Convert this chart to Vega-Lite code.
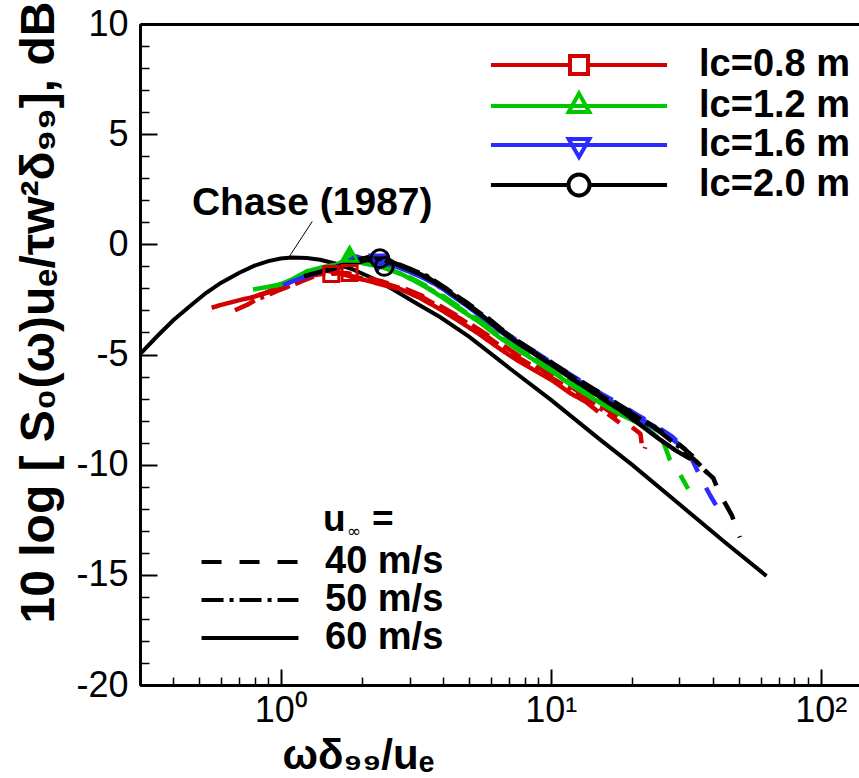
{
  "$schema": "https://vega.github.io/schema/vega-lite/v6.json",
  "width": 719,
  "height": 661,
  "autosize": "none",
  "padding": {"left": 140, "top": 24, "right": 0, "bottom": 93},
  "config": {
    "view": {"stroke": null},
    "axis": {"grid": false, "domainColor": "black", "domainWidth": 3, "tickColor": "black", "labelFont": "Liberation Sans", "labelFontSize": 36, "labelColor": "black", "titleFont": "Liberation Sans", "titleColor": "black", "titleFontWeight": "bold", "labelFlush": false, "labelOverlap": false},
    "legend": {"labelFont": "Liberation Sans", "labelColor": "black", "padding": 0}
  },
  "datasets": {
    "chase": [
      {"x": 0.302, "y": -4.97}, {"x": 0.35, "y": -4.15}, {"x": 0.4, "y": -3.45}, {"x": 0.47, "y": -2.72}, {"x": 0.53, "y": -2.2}, {"x": 0.6, "y": -1.75}, {"x": 0.7, "y": -1.3}, {"x": 0.8, "y": -0.97}, {"x": 0.9, "y": -0.76}, {"x": 1.0, "y": -0.64}, {"x": 1.1, "y": -0.6}, {"x": 1.25, "y": -0.62}, {"x": 1.4, "y": -0.7}, {"x": 1.6, "y": -0.88}, {"x": 1.86, "y": -1.15}, {"x": 2.2, "y": -1.55}, {"x": 2.61, "y": -2.05}, {"x": 3.2, "y": -2.7}, {"x": 3.89, "y": -3.3}, {"x": 5, "y": -4.2}, {"x": 7, "y": -5.6}, {"x": 10, "y": -7.05}, {"x": 15.2, "y": -8.85}, {"x": 20, "y": -10.0}, {"x": 30, "y": -11.8}, {"x": 45, "y": -13.6}, {"x": 63, "y": -15.05}
    ],
    "spectra": [
      {"lc": "0.8", "u": "60 m/s", "x": 0.555, "y": -2.88}, {"lc": "0.8", "u": "60 m/s", "x": 0.6, "y": -2.75}, {"lc": "0.8", "u": "60 m/s", "x": 0.66, "y": -2.62}, {"lc": "0.8", "u": "60 m/s", "x": 0.72, "y": -2.5}, {"lc": "0.8", "u": "60 m/s", "x": 0.77, "y": -2.43}, {"lc": "0.8", "u": "60 m/s", "x": 0.86, "y": -2.25}, {"lc": "0.8", "u": "60 m/s", "x": 0.94, "y": -2.05}, {"lc": "0.8", "u": "60 m/s", "x": 1.05, "y": -1.78}, {"lc": "0.8", "u": "60 m/s", "x": 1.18, "y": -1.5}, {"lc": "0.8", "u": "60 m/s", "x": 1.32, "y": -1.38}, {"lc": "0.8", "u": "60 m/s", "x": 1.48, "y": -1.2}, {"lc": "0.8", "u": "60 m/s", "x": 1.65, "y": -1.3}, {"lc": "0.8", "u": "60 m/s", "x": 1.85, "y": -1.5}, {"lc": "0.8", "u": "60 m/s", "x": 2.1, "y": -1.65}, {"lc": "0.8", "u": "60 m/s", "x": 2.4, "y": -1.85}, {"lc": "0.8", "u": "60 m/s", "x": 2.8, "y": -2.05}, {"lc": "0.8", "u": "60 m/s", "x": 3.3, "y": -2.45}, {"lc": "0.8", "u": "60 m/s", "x": 3.9, "y": -2.95}, {"lc": "0.8", "u": "60 m/s", "x": 4.6, "y": -3.5}, {"lc": "0.8", "u": "60 m/s", "x": 5.4, "y": -4.05}, {"lc": "0.8", "u": "60 m/s", "x": 6.5, "y": -4.75}, {"lc": "0.8", "u": "60 m/s", "x": 7.6, "y": -5.3}, {"lc": "0.8", "u": "60 m/s", "x": 8.8, "y": -5.75}, {"lc": "0.8", "u": "60 m/s", "x": 10.2, "y": -6.2}, {"lc": "0.8", "u": "60 m/s", "x": 11.8, "y": -6.75}, {"lc": "0.8", "u": "60 m/s", "x": 13.5, "y": -7.15}, {"lc": "0.8", "u": "60 m/s", "x": 15.0, "y": -7.6},
      {"lc": "0.8", "u": "50 m/s", "x": 0.677, "y": -2.99}, {"lc": "0.8", "u": "50 m/s", "x": 0.75, "y": -2.75}, {"lc": "0.8", "u": "50 m/s", "x": 0.815, "y": -2.5}, {"lc": "0.8", "u": "50 m/s", "x": 0.9, "y": -2.3}, {"lc": "0.8", "u": "50 m/s", "x": 0.966, "y": -2.13}, {"lc": "0.8", "u": "50 m/s", "x": 1.05, "y": -1.95}, {"lc": "0.8", "u": "50 m/s", "x": 1.15, "y": -1.75}, {"lc": "0.8", "u": "50 m/s", "x": 1.32, "y": -1.4}, {"lc": "0.8", "u": "50 m/s", "x": 1.5, "y": -1.3}, {"lc": "0.8", "u": "50 m/s", "x": 1.7, "y": -1.35}, {"lc": "0.8", "u": "50 m/s", "x": 2.0, "y": -1.55}, {"lc": "0.8", "u": "50 m/s", "x": 2.4, "y": -1.75}, {"lc": "0.8", "u": "50 m/s", "x": 2.8, "y": -2.0}, {"lc": "0.8", "u": "50 m/s", "x": 3.3, "y": -2.35}, {"lc": "0.8", "u": "50 m/s", "x": 3.9, "y": -2.85}, {"lc": "0.8", "u": "50 m/s", "x": 4.6, "y": -3.35}, {"lc": "0.8", "u": "50 m/s", "x": 5.4, "y": -3.9}, {"lc": "0.8", "u": "50 m/s", "x": 6.5, "y": -4.6}, {"lc": "0.8", "u": "50 m/s", "x": 7.6, "y": -5.15}, {"lc": "0.8", "u": "50 m/s", "x": 8.8, "y": -5.6}, {"lc": "0.8", "u": "50 m/s", "x": 10.2, "y": -6.1}, {"lc": "0.8", "u": "50 m/s", "x": 11.8, "y": -6.55}, {"lc": "0.8", "u": "50 m/s", "x": 13.5, "y": -7.0}, {"lc": "0.8", "u": "50 m/s", "x": 15.5, "y": -7.5}, {"lc": "0.8", "u": "50 m/s", "x": 18, "y": -8.1},
      {"lc": "0.8", "u": "40 m/s", "x": 0.83, "y": -2.3}, {"lc": "0.8", "u": "40 m/s", "x": 0.95, "y": -2.1}, {"lc": "0.8", "u": "40 m/s", "x": 1.1, "y": -1.85}, {"lc": "0.8", "u": "40 m/s", "x": 1.3, "y": -1.5}, {"lc": "0.8", "u": "40 m/s", "x": 1.5, "y": -1.35}, {"lc": "0.8", "u": "40 m/s", "x": 1.75, "y": -1.3}, {"lc": "0.8", "u": "40 m/s", "x": 2.0, "y": -1.45}, {"lc": "0.8", "u": "40 m/s", "x": 2.4, "y": -1.7}, {"lc": "0.8", "u": "40 m/s", "x": 2.8, "y": -1.95}, {"lc": "0.8", "u": "40 m/s", "x": 3.3, "y": -2.3}, {"lc": "0.8", "u": "40 m/s", "x": 3.9, "y": -2.8}, {"lc": "0.8", "u": "40 m/s", "x": 4.6, "y": -3.3}, {"lc": "0.8", "u": "40 m/s", "x": 5.4, "y": -3.85}, {"lc": "0.8", "u": "40 m/s", "x": 6.5, "y": -4.5}, {"lc": "0.8", "u": "40 m/s", "x": 7.6, "y": -5.05}, {"lc": "0.8", "u": "40 m/s", "x": 8.8, "y": -5.5}, {"lc": "0.8", "u": "40 m/s", "x": 10.2, "y": -6.0}, {"lc": "0.8", "u": "40 m/s", "x": 11.8, "y": -6.45}, {"lc": "0.8", "u": "40 m/s", "x": 13.5, "y": -6.9}, {"lc": "0.8", "u": "40 m/s", "x": 15.5, "y": -7.35}, {"lc": "0.8", "u": "40 m/s", "x": 18, "y": -7.9}, {"lc": "0.8", "u": "40 m/s", "x": 20, "y": -8.3}, {"lc": "0.8", "u": "40 m/s", "x": 21.5, "y": -8.6}, {"lc": "0.8", "u": "40 m/s", "x": 22.0, "y": -9.55}, {"lc": "0.8", "u": "40 m/s", "x": 22.4, "y": -9.2},
      {"lc": "1.2", "u": "60 m/s", "x": 0.79, "y": -2.05}, {"lc": "1.2", "u": "60 m/s", "x": 0.88, "y": -1.95}, {"lc": "1.2", "u": "60 m/s", "x": 0.99, "y": -1.83}, {"lc": "1.2", "u": "60 m/s", "x": 1.1, "y": -1.6}, {"lc": "1.2", "u": "60 m/s", "x": 1.25, "y": -1.22}, {"lc": "1.2", "u": "60 m/s", "x": 1.48, "y": -1.0}, {"lc": "1.2", "u": "60 m/s", "x": 1.65, "y": -0.9}, {"lc": "1.2", "u": "60 m/s", "x": 1.75, "y": -0.7}, {"lc": "1.2", "u": "60 m/s", "x": 1.8, "y": -0.3}, {"lc": "1.2", "u": "60 m/s", "x": 1.87, "y": -0.7}, {"lc": "1.2", "u": "60 m/s", "x": 2.0, "y": -0.85}, {"lc": "1.2", "u": "60 m/s", "x": 2.4, "y": -1.05}, {"lc": "1.2", "u": "60 m/s", "x": 2.8, "y": -1.35}, {"lc": "1.2", "u": "60 m/s", "x": 3.3, "y": -1.8}, {"lc": "1.2", "u": "60 m/s", "x": 3.9, "y": -2.35}, {"lc": "1.2", "u": "60 m/s", "x": 4.6, "y": -2.95}, {"lc": "1.2", "u": "60 m/s", "x": 5.4, "y": -3.5}, {"lc": "1.2", "u": "60 m/s", "x": 6.5, "y": -4.25}, {"lc": "1.2", "u": "60 m/s", "x": 7.6, "y": -4.8}, {"lc": "1.2", "u": "60 m/s", "x": 8.8, "y": -5.3}, {"lc": "1.2", "u": "60 m/s", "x": 10.2, "y": -5.8}, {"lc": "1.2", "u": "60 m/s", "x": 11.8, "y": -6.35}, {"lc": "1.2", "u": "60 m/s", "x": 13.5, "y": -6.8}, {"lc": "1.2", "u": "60 m/s", "x": 15.5, "y": -7.25}, {"lc": "1.2", "u": "60 m/s", "x": 18, "y": -7.7}, {"lc": "1.2", "u": "60 m/s", "x": 21.4, "y": -8.15},
      {"lc": "1.2", "u": "50 m/s", "x": 0.95, "y": -1.9}, {"lc": "1.2", "u": "50 m/s", "x": 1.1, "y": -1.65}, {"lc": "1.2", "u": "50 m/s", "x": 1.3, "y": -1.3}, {"lc": "1.2", "u": "50 m/s", "x": 1.5, "y": -1.05}, {"lc": "1.2", "u": "50 m/s", "x": 1.7, "y": -0.85}, {"lc": "1.2", "u": "50 m/s", "x": 1.85, "y": -0.55}, {"lc": "1.2", "u": "50 m/s", "x": 2.0, "y": -0.8}, {"lc": "1.2", "u": "50 m/s", "x": 2.4, "y": -1.05}, {"lc": "1.2", "u": "50 m/s", "x": 2.8, "y": -1.35}, {"lc": "1.2", "u": "50 m/s", "x": 3.3, "y": -1.8}, {"lc": "1.2", "u": "50 m/s", "x": 3.9, "y": -2.3}, {"lc": "1.2", "u": "50 m/s", "x": 4.6, "y": -2.9}, {"lc": "1.2", "u": "50 m/s", "x": 5.4, "y": -3.45}, {"lc": "1.2", "u": "50 m/s", "x": 6.5, "y": -4.2}, {"lc": "1.2", "u": "50 m/s", "x": 7.6, "y": -4.75}, {"lc": "1.2", "u": "50 m/s", "x": 8.8, "y": -5.25}, {"lc": "1.2", "u": "50 m/s", "x": 10.2, "y": -5.75}, {"lc": "1.2", "u": "50 m/s", "x": 11.8, "y": -6.3}, {"lc": "1.2", "u": "50 m/s", "x": 13.5, "y": -6.7}, {"lc": "1.2", "u": "50 m/s", "x": 15.5, "y": -7.15}, {"lc": "1.2", "u": "50 m/s", "x": 18, "y": -7.6}, {"lc": "1.2", "u": "50 m/s", "x": 21, "y": -8.1}, {"lc": "1.2", "u": "50 m/s", "x": 23.5, "y": -8.5}, {"lc": "1.2", "u": "50 m/s", "x": 25.7, "y": -8.9},
      {"lc": "1.2", "u": "40 m/s", "x": 1.19, "y": -1.5}, {"lc": "1.2", "u": "40 m/s", "x": 1.35, "y": -1.25}, {"lc": "1.2", "u": "40 m/s", "x": 1.55, "y": -1.0}, {"lc": "1.2", "u": "40 m/s", "x": 1.75, "y": -0.7}, {"lc": "1.2", "u": "40 m/s", "x": 2.0, "y": -0.8}, {"lc": "1.2", "u": "40 m/s", "x": 2.4, "y": -1.0}, {"lc": "1.2", "u": "40 m/s", "x": 2.8, "y": -1.3}, {"lc": "1.2", "u": "40 m/s", "x": 3.3, "y": -1.75}, {"lc": "1.2", "u": "40 m/s", "x": 3.9, "y": -2.25}, {"lc": "1.2", "u": "40 m/s", "x": 4.6, "y": -2.85}, {"lc": "1.2", "u": "40 m/s", "x": 5.4, "y": -3.4}, {"lc": "1.2", "u": "40 m/s", "x": 6.5, "y": -4.1}, {"lc": "1.2", "u": "40 m/s", "x": 7.6, "y": -4.65}, {"lc": "1.2", "u": "40 m/s", "x": 8.8, "y": -5.15}, {"lc": "1.2", "u": "40 m/s", "x": 10.2, "y": -5.65}, {"lc": "1.2", "u": "40 m/s", "x": 11.8, "y": -6.2}, {"lc": "1.2", "u": "40 m/s", "x": 13.5, "y": -6.6}, {"lc": "1.2", "u": "40 m/s", "x": 15.5, "y": -7.05}, {"lc": "1.2", "u": "40 m/s", "x": 18, "y": -7.5}, {"lc": "1.2", "u": "40 m/s", "x": 21, "y": -7.95}, {"lc": "1.2", "u": "40 m/s", "x": 24, "y": -8.4}, {"lc": "1.2", "u": "40 m/s", "x": 26, "y": -8.9}, {"lc": "1.2", "u": "40 m/s", "x": 27.6, "y": -9.75}, {"lc": "1.2", "u": "40 m/s", "x": 30, "y": -10.4}, {"lc": "1.2", "u": "40 m/s", "x": 32.3, "y": -11.1},
      {"lc": "1.6", "u": "60 m/s", "x": 1.02, "y": -1.85}, {"lc": "1.6", "u": "60 m/s", "x": 1.15, "y": -1.6}, {"lc": "1.6", "u": "60 m/s", "x": 1.3, "y": -1.35}, {"lc": "1.6", "u": "60 m/s", "x": 1.5, "y": -1.15}, {"lc": "1.6", "u": "60 m/s", "x": 1.66, "y": -1.0}, {"lc": "1.6", "u": "60 m/s", "x": 1.8, "y": -0.75}, {"lc": "1.6", "u": "60 m/s", "x": 1.9, "y": -0.55}, {"lc": "1.6", "u": "60 m/s", "x": 2.1, "y": -0.7}, {"lc": "1.6", "u": "60 m/s", "x": 2.3, "y": -0.8}, {"lc": "1.6", "u": "60 m/s", "x": 2.6, "y": -0.95}, {"lc": "1.6", "u": "60 m/s", "x": 3.0, "y": -1.25}, {"lc": "1.6", "u": "60 m/s", "x": 3.5, "y": -1.6}, {"lc": "1.6", "u": "60 m/s", "x": 4.1, "y": -2.1}, {"lc": "1.6", "u": "60 m/s", "x": 4.9, "y": -2.8}, {"lc": "1.6", "u": "60 m/s", "x": 5.8, "y": -3.45}, {"lc": "1.6", "u": "60 m/s", "x": 6.5, "y": -3.95}, {"lc": "1.6", "u": "60 m/s", "x": 7.6, "y": -4.5}, {"lc": "1.6", "u": "60 m/s", "x": 8.8, "y": -5.0}, {"lc": "1.6", "u": "60 m/s", "x": 10.2, "y": -5.5}, {"lc": "1.6", "u": "60 m/s", "x": 11.8, "y": -6.0}, {"lc": "1.6", "u": "60 m/s", "x": 13.5, "y": -6.45}, {"lc": "1.6", "u": "60 m/s", "x": 15.5, "y": -6.9}, {"lc": "1.6", "u": "60 m/s", "x": 18, "y": -7.4}, {"lc": "1.6", "u": "60 m/s", "x": 21, "y": -7.9}, {"lc": "1.6", "u": "60 m/s", "x": 25.4, "y": -8.5}, {"lc": "1.6", "u": "60 m/s", "x": 27.5, "y": -8.75},
      {"lc": "1.6", "u": "50 m/s", "x": 1.22, "y": -1.5}, {"lc": "1.6", "u": "50 m/s", "x": 1.4, "y": -1.25}, {"lc": "1.6", "u": "50 m/s", "x": 1.6, "y": -1.05}, {"lc": "1.6", "u": "50 m/s", "x": 1.85, "y": -0.75}, {"lc": "1.6", "u": "50 m/s", "x": 2.1, "y": -0.7}, {"lc": "1.6", "u": "50 m/s", "x": 2.4, "y": -0.85}, {"lc": "1.6", "u": "50 m/s", "x": 2.8, "y": -1.05}, {"lc": "1.6", "u": "50 m/s", "x": 3.3, "y": -1.45}, {"lc": "1.6", "u": "50 m/s", "x": 3.9, "y": -1.95}, {"lc": "1.6", "u": "50 m/s", "x": 4.6, "y": -2.55}, {"lc": "1.6", "u": "50 m/s", "x": 5.4, "y": -3.15}, {"lc": "1.6", "u": "50 m/s", "x": 6.5, "y": -3.9}, {"lc": "1.6", "u": "50 m/s", "x": 7.6, "y": -4.45}, {"lc": "1.6", "u": "50 m/s", "x": 8.8, "y": -4.95}, {"lc": "1.6", "u": "50 m/s", "x": 10.2, "y": -5.45}, {"lc": "1.6", "u": "50 m/s", "x": 11.8, "y": -5.95}, {"lc": "1.6", "u": "50 m/s", "x": 13.5, "y": -6.4}, {"lc": "1.6", "u": "50 m/s", "x": 15.5, "y": -6.85}, {"lc": "1.6", "u": "50 m/s", "x": 18, "y": -7.35}, {"lc": "1.6", "u": "50 m/s", "x": 21, "y": -7.85}, {"lc": "1.6", "u": "50 m/s", "x": 25, "y": -8.35}, {"lc": "1.6", "u": "50 m/s", "x": 30, "y": -9.1}, {"lc": "1.6", "u": "50 m/s", "x": 33, "y": -9.5},
      {"lc": "1.6", "u": "40 m/s", "x": 1.52, "y": -1.1}, {"lc": "1.6", "u": "40 m/s", "x": 1.75, "y": -0.85}, {"lc": "1.6", "u": "40 m/s", "x": 2.0, "y": -0.65}, {"lc": "1.6", "u": "40 m/s", "x": 2.3, "y": -0.75}, {"lc": "1.6", "u": "40 m/s", "x": 2.7, "y": -0.95}, {"lc": "1.6", "u": "40 m/s", "x": 3.2, "y": -1.35}, {"lc": "1.6", "u": "40 m/s", "x": 3.7, "y": -1.75}, {"lc": "1.6", "u": "40 m/s", "x": 4.3, "y": -2.3}, {"lc": "1.6", "u": "40 m/s", "x": 4.9, "y": -2.75}, {"lc": "1.6", "u": "40 m/s", "x": 5.8, "y": -3.4}, {"lc": "1.6", "u": "40 m/s", "x": 6.5, "y": -3.85}, {"lc": "1.6", "u": "40 m/s", "x": 7.6, "y": -4.4}, {"lc": "1.6", "u": "40 m/s", "x": 8.8, "y": -4.9}, {"lc": "1.6", "u": "40 m/s", "x": 10.2, "y": -5.4}, {"lc": "1.6", "u": "40 m/s", "x": 11.8, "y": -5.9}, {"lc": "1.6", "u": "40 m/s", "x": 13.5, "y": -6.35}, {"lc": "1.6", "u": "40 m/s", "x": 15.5, "y": -6.8}, {"lc": "1.6", "u": "40 m/s", "x": 18, "y": -7.25}, {"lc": "1.6", "u": "40 m/s", "x": 21, "y": -7.75}, {"lc": "1.6", "u": "40 m/s", "x": 25, "y": -8.3}, {"lc": "1.6", "u": "40 m/s", "x": 28, "y": -8.7}, {"lc": "1.6", "u": "40 m/s", "x": 31, "y": -9.2}, {"lc": "1.6", "u": "40 m/s", "x": 33.5, "y": -9.8}, {"lc": "1.6", "u": "40 m/s", "x": 36.7, "y": -10.8}, {"lc": "1.6", "u": "40 m/s", "x": 39, "y": -11.4}, {"lc": "1.6", "u": "40 m/s", "x": 41.7, "y": -12.0},
      {"lc": "2.0", "u": "60 m/s", "x": 1.22, "y": -1.45}, {"lc": "2.0", "u": "60 m/s", "x": 1.4, "y": -1.25}, {"lc": "2.0", "u": "60 m/s", "x": 1.57, "y": -1.07}, {"lc": "2.0", "u": "60 m/s", "x": 1.8, "y": -0.85}, {"lc": "2.0", "u": "60 m/s", "x": 2.0, "y": -0.65}, {"lc": "2.0", "u": "60 m/s", "x": 2.2, "y": -0.54}, {"lc": "2.0", "u": "60 m/s", "x": 2.4, "y": -0.7}, {"lc": "2.0", "u": "60 m/s", "x": 2.61, "y": -0.83}, {"lc": "2.0", "u": "60 m/s", "x": 3.0, "y": -1.15}, {"lc": "2.0", "u": "60 m/s", "x": 3.5, "y": -1.5}, {"lc": "2.0", "u": "60 m/s", "x": 4.1, "y": -2.05}, {"lc": "2.0", "u": "60 m/s", "x": 4.9, "y": -2.75}, {"lc": "2.0", "u": "60 m/s", "x": 5.8, "y": -3.4}, {"lc": "2.0", "u": "60 m/s", "x": 6.5, "y": -3.9}, {"lc": "2.0", "u": "60 m/s", "x": 7.6, "y": -4.5}, {"lc": "2.0", "u": "60 m/s", "x": 8.8, "y": -5.0}, {"lc": "2.0", "u": "60 m/s", "x": 10.2, "y": -5.5}, {"lc": "2.0", "u": "60 m/s", "x": 11.8, "y": -6.05}, {"lc": "2.0", "u": "60 m/s", "x": 13.5, "y": -6.5}, {"lc": "2.0", "u": "60 m/s", "x": 15.5, "y": -7.0}, {"lc": "2.0", "u": "60 m/s", "x": 18, "y": -7.5}, {"lc": "2.0", "u": "60 m/s", "x": 21, "y": -8.1}, {"lc": "2.0", "u": "60 m/s", "x": 25, "y": -8.8}, {"lc": "2.0", "u": "60 m/s", "x": 29, "y": -9.35}, {"lc": "2.0", "u": "60 m/s", "x": 33, "y": -9.75},
      {"lc": "2.0", "u": "50 m/s", "x": 1.47, "y": -1.2}, {"lc": "2.0", "u": "50 m/s", "x": 1.7, "y": -1.0}, {"lc": "2.0", "u": "50 m/s", "x": 1.95, "y": -0.75}, {"lc": "2.0", "u": "50 m/s", "x": 2.3, "y": -0.6}, {"lc": "2.0", "u": "50 m/s", "x": 2.6, "y": -0.8}, {"lc": "2.0", "u": "50 m/s", "x": 3.0, "y": -1.1}, {"lc": "2.0", "u": "50 m/s", "x": 3.5, "y": -1.45}, {"lc": "2.0", "u": "50 m/s", "x": 4.1, "y": -2.0}, {"lc": "2.0", "u": "50 m/s", "x": 4.9, "y": -2.7}, {"lc": "2.0", "u": "50 m/s", "x": 5.8, "y": -3.35}, {"lc": "2.0", "u": "50 m/s", "x": 6.5, "y": -3.85}, {"lc": "2.0", "u": "50 m/s", "x": 7.6, "y": -4.45}, {"lc": "2.0", "u": "50 m/s", "x": 8.8, "y": -4.95}, {"lc": "2.0", "u": "50 m/s", "x": 10.2, "y": -5.45}, {"lc": "2.0", "u": "50 m/s", "x": 11.8, "y": -5.95}, {"lc": "2.0", "u": "50 m/s", "x": 13.5, "y": -6.4}, {"lc": "2.0", "u": "50 m/s", "x": 15.5, "y": -6.9}, {"lc": "2.0", "u": "50 m/s", "x": 18, "y": -7.35}, {"lc": "2.0", "u": "50 m/s", "x": 21, "y": -7.85}, {"lc": "2.0", "u": "50 m/s", "x": 25, "y": -8.45}, {"lc": "2.0", "u": "50 m/s", "x": 30, "y": -9.2}, {"lc": "2.0", "u": "50 m/s", "x": 35, "y": -9.9}, {"lc": "2.0", "u": "50 m/s", "x": 39.6, "y": -10.6},
      {"lc": "2.0", "u": "40 m/s", "x": 1.83, "y": -0.9}, {"lc": "2.0", "u": "40 m/s", "x": 2.1, "y": -0.7}, {"lc": "2.0", "u": "40 m/s", "x": 2.35, "y": -0.75}, {"lc": "2.0", "u": "40 m/s", "x": 2.7, "y": -0.9}, {"lc": "2.0", "u": "40 m/s", "x": 3.2, "y": -1.3}, {"lc": "2.0", "u": "40 m/s", "x": 3.7, "y": -1.7}, {"lc": "2.0", "u": "40 m/s", "x": 4.3, "y": -2.2}, {"lc": "2.0", "u": "40 m/s", "x": 4.9, "y": -2.65}, {"lc": "2.0", "u": "40 m/s", "x": 5.8, "y": -3.3}, {"lc": "2.0", "u": "40 m/s", "x": 6.5, "y": -3.8}, {"lc": "2.0", "u": "40 m/s", "x": 7.6, "y": -4.4}, {"lc": "2.0", "u": "40 m/s", "x": 8.8, "y": -4.9}, {"lc": "2.0", "u": "40 m/s", "x": 10.2, "y": -5.4}, {"lc": "2.0", "u": "40 m/s", "x": 11.8, "y": -5.9}, {"lc": "2.0", "u": "40 m/s", "x": 13.5, "y": -6.35}, {"lc": "2.0", "u": "40 m/s", "x": 15.5, "y": -6.8}, {"lc": "2.0", "u": "40 m/s", "x": 18, "y": -7.3}, {"lc": "2.0", "u": "40 m/s", "x": 21, "y": -7.8}, {"lc": "2.0", "u": "40 m/s", "x": 25, "y": -8.4}, {"lc": "2.0", "u": "40 m/s", "x": 30, "y": -9.1}, {"lc": "2.0", "u": "40 m/s", "x": 33.5, "y": -9.6}, {"lc": "2.0", "u": "40 m/s", "x": 36.7, "y": -10.2}, {"lc": "2.0", "u": "40 m/s", "x": 40, "y": -10.6}, {"lc": "2.0", "u": "40 m/s", "x": 42.2, "y": -11.3}, {"lc": "2.0", "u": "40 m/s", "x": 46.9, "y": -12.3}, {"lc": "2.0", "u": "40 m/s", "x": 50.2, "y": -13.3}
    ],
    "markers": [
      {"lc": "0.8", "x": 1.54, "y": -1.35}, {"lc": "0.8", "x": 1.8, "y": -1.3}, {"lc": "1.2", "x": 1.8, "y": -0.45}, {"lc": "1.6", "x": 2.3, "y": -0.8}, {"lc": "2.0", "x": 2.33, "y": -0.65}, {"lc": "2.0", "x": 2.42, "y": -1.0}
    ],
    "notes": [
      {"label": "Chase (1987)", "x": 0.469, "y": 1.35},
      {"label": "u", "x": 1.434, "y": -13.02},
      {"label": "∞", "x": 1.76, "y": -13.3},
      {"label": "=", "x": 2.178, "y": -13.02}
    ],
    "leader": [
      {"x": 1.074, "y": -0.57, "x2": 1.309, "y2": 1.04}
    ]
  },
  "layer": [
    {
      "data": {"name": "markers"},
      "mark": {"type": "point", "filled": false, "opacity": 0, "size": 1156, "strokeWidth": 4},
      "encoding": {
        "x": {"field": "x", "type": "quantitative", "scale": {"type": "log", "domain": [0.3012, 138.7], "nice": false}, "axis": null},
        "y": {"field": "y", "type": "quantitative", "scale": {"domain": [-20, 10], "nice": false, "zero": false}, "axis": null},
        "color": {"field": "lc", "type": "nominal", "scale": {"domain": ["0.8", "1.2", "1.6", "2.0"], "range": ["#d20000", "#00c800", "#2b2bff", "#000000"]},
          "legend": {"orient": "none", "legendX": 420, "legendY": 22, "title": null, "symbolSize": 1156, "symbolStrokeWidth": 4, "symbolOpacity": 1, "symbolFillColor": "transparent", "labelFontSize": 38, "labelFontWeight": "bold", "labelOffset": 101, "rowPadding": 1, "padding": 0, "labelExpr": "'lc=' + datum.label + ' m'"}},
        "shape": {"field": "lc", "type": "nominal", "scale": {"domain": ["0.8", "1.2", "1.6", "2.0"], "range": [
          "M-5.18,0H-0.53M0.53,0H5.18M-0.53,-0.53H0.53V0.53H-0.53Z",
          "M-5.18,0H5.18M0,-0.74L0.61,0.35L-0.61,0.35Z",
          "M-5.18,0H5.18M-0.61,-0.35L0.61,-0.35L0,0.7Z",
          "M-5.18,0H-0.62M0.62,0H5.18M0.62,0A0.62,0.62 0 1,1 -0.62,0A0.62,0.62 0 1,1 0.62,0Z"]},
          "legend": {"orient": "none", "legendX": 420, "legendY": 22, "title": null, "symbolSize": 1156, "symbolStrokeWidth": 4, "symbolOpacity": 1, "symbolFillColor": "transparent", "labelFontSize": 38, "labelFontWeight": "bold", "labelOffset": 101, "rowPadding": 1, "padding": 0, "labelExpr": "'lc=' + datum.label + ' m'"}}
      }
    },
    {
      "data": {"name": "chase"},
      "mark": {"type": "line", "color": "black", "strokeWidth": 4, "clip": true},
      "encoding": {
        "x": {"field": "x", "type": "quantitative", "scale": {"type": "log", "domain": [0.3012, 138.7], "nice": false},
          "axis": {"orient": "bottom", "values": [1, 10, 100], "tickSize": -16, "tickWidth": 2, "labelPadding": 24, "labelExpr": "datum.value == 1 ? '10⁰' : datum.value == 10 ? '10¹' : '10²'", "title": "ωδ₉₉/uₑ", "titleFontSize": 42, "titleX": 218, "titleY": 83, "titleBaseline": "alphabetic", "titleAlign": "center"}},
        "y": {"field": "y", "type": "quantitative", "scale": {"domain": [-20, 10], "nice": false, "zero": false},
          "axis": {"orient": "left", "values": [-20, -15, -10, -5, 0, 5, 10], "tickSize": -17, "tickWidth": 2, "labelPadding": 29, "labelExpr": "toString(datum.value)", "title": "10 log [ S₀(ω)uₑ/τw²δ₉₉], dB", "titleFontSize": 48, "titleX": -87, "titleY": 599, "titleAlign": "left", "titleBaseline": "alphabetic", "titleAngle": 270}}
      }
    },
    {
      "data": {"name": "spectra"},
      "mark": {"type": "line", "strokeWidth": 4.5, "strokeJoin": "round", "clip": true},
      "encoding": {
        "x": {"field": "x", "type": "quantitative", "scale": {"type": "log", "domain": [0.3012, 138.7], "nice": false},
          "axis": {"orient": "bottom", "values": [0.4, 0.5, 0.6, 0.7, 0.8, 0.9, 2, 3, 4, 5, 6, 7, 8, 9, 20, 30, 40, 50, 60, 70, 80, 90], "tickSize": -8, "tickWidth": 1.5, "labels": false, "title": null}},
        "y": {"field": "y", "type": "quantitative", "scale": {"domain": [-20, 10], "nice": false, "zero": false},
          "axis": {"orient": "left", "values": [-19, -18, -17, -16, -14, -13, -12, -11, -9, -8, -7, -6, -4, -3, -2, -1, 1, 2, 3, 4, 6, 7, 8, 9], "tickSize": -9, "tickWidth": 1.5, "labels": false, "title": null}},
        "color": {"field": "lc", "type": "nominal", "scale": {"domain": ["0.8", "1.2", "1.6", "2.0"], "range": ["#d20000", "#00c800", "#2b2bff", "#000000"]}, "legend": null},
        "strokeDash": {"field": "u", "type": "nominal", "scale": {"domain": ["40 m/s", "50 m/s", "60 m/s"], "range": [[20, 18], [22, 6, 4, 6], [1, 0]]},
          "legend": {"orient": "none", "legendX": 91, "legendY": 519, "title": null, "symbolType": "M-2.85,0H2.85", "symbolSize": 1156, "symbolStrokeWidth": 4, "symbolStrokeColor": "black", "symbolFillColor": "transparent", "symbolOpacity": 1, "labelFontSize": 38, "labelFontWeight": "bold", "labelOffset": 56, "rowPadding": 0, "padding": 0}}
      }
    },
    {
      "data": {"name": "markers"},
      "transform": [{"filter": "datum.lc == '0.8'"}],
      "mark": {"type": "point", "shape": "square", "filled": false, "opacity": 1, "size": 225, "strokeWidth": 3},
      "encoding": {
        "x": {"field": "x", "type": "quantitative", "scale": {"type": "log", "domain": [0.3012, 138.7], "nice": false},
          "axis": {"orient": "top", "domain": true, "domainWidth": 3, "ticks": false, "labels": false, "title": null}},
        "y": {"field": "y", "type": "quantitative", "scale": {"domain": [-20, 10], "nice": false, "zero": false}, "axis": null},
        "color": {"field": "lc", "type": "nominal", "scale": {"domain": ["0.8", "1.2", "1.6", "2.0"], "range": ["#d20000", "#00c800", "#2b2bff", "#000000"]}, "legend": null}
      }
    },
    {
      "data": {"name": "markers"},
      "transform": [{"filter": "datum.lc == '1.2'"}],
      "mark": {"type": "point", "shape": "triangle-up", "filled": false, "opacity": 1, "size": 260, "strokeWidth": 3},
      "encoding": {
        "x": {"field": "x", "type": "quantitative", "scale": {"type": "log", "domain": [0.3012, 138.7], "nice": false}, "axis": null},
        "y": {"field": "y", "type": "quantitative", "scale": {"domain": [-20, 10], "nice": false, "zero": false}, "axis": null},
        "color": {"field": "lc", "type": "nominal", "scale": {"domain": ["0.8", "1.2", "1.6", "2.0"], "range": ["#d20000", "#00c800", "#2b2bff", "#000000"]}, "legend": null}
      }
    },
    {
      "data": {"name": "markers"},
      "transform": [{"filter": "datum.lc == '1.6'"}],
      "mark": {"type": "point", "shape": "triangle-down", "filled": false, "opacity": 1, "size": 260, "strokeWidth": 3},
      "encoding": {
        "x": {"field": "x", "type": "quantitative", "scale": {"type": "log", "domain": [0.3012, 138.7], "nice": false}, "axis": null},
        "y": {"field": "y", "type": "quantitative", "scale": {"domain": [-20, 10], "nice": false, "zero": false}, "axis": null},
        "color": {"field": "lc", "type": "nominal", "scale": {"domain": ["0.8", "1.2", "1.6", "2.0"], "range": ["#d20000", "#00c800", "#2b2bff", "#000000"]}, "legend": null}
      }
    },
    {
      "data": {"name": "markers"},
      "transform": [{"filter": "datum.lc == '2.0'"}],
      "mark": {"type": "point", "shape": "circle", "filled": false, "opacity": 1, "size": 320, "strokeWidth": 3},
      "encoding": {
        "x": {"field": "x", "type": "quantitative", "scale": {"type": "log", "domain": [0.3012, 138.7], "nice": false}, "axis": null},
        "y": {"field": "y", "type": "quantitative", "scale": {"domain": [-20, 10], "nice": false, "zero": false}, "axis": null},
        "color": {"field": "lc", "type": "nominal", "scale": {"domain": ["0.8", "1.2", "1.6", "2.0"], "range": ["#d20000", "#00c800", "#2b2bff", "#000000"]}, "legend": null}
      }
    },
    {
      "data": {"name": "leader"},
      "mark": {"type": "rule", "color": "black", "strokeWidth": 1},
      "encoding": {
        "x": {"field": "x", "type": "quantitative", "scale": {"type": "log", "domain": [0.3012, 138.7], "nice": false}, "axis": null},
        "y": {"field": "y", "type": "quantitative", "scale": {"domain": [-20, 10], "nice": false, "zero": false}, "axis": null},
        "x2": {"field": "x2"},
        "y2": {"field": "y2"}
      }
    },
    {
      "data": {"name": "notes"},
      "transform": [{"filter": "datum.label != '∞' && datum.label != 'Chase (1987)'"}],
      "mark": {"type": "text", "font": "Liberation Sans", "fontWeight": "bold", "fontSize": 37, "align": "left", "baseline": "alphabetic", "color": "black"},
      "encoding": {
        "x": {"field": "x", "type": "quantitative", "scale": {"type": "log", "domain": [0.3012, 138.7], "nice": false}, "axis": null},
        "y": {"field": "y", "type": "quantitative", "scale": {"domain": [-20, 10], "nice": false, "zero": false}, "axis": null},
        "text": {"field": "label"}
      }
    },
    {
      "data": {"name": "notes"},
      "transform": [{"filter": "datum.label == 'Chase (1987)'"}],
      "mark": {"type": "text", "font": "Liberation Sans", "fontWeight": "bold", "fontSize": 39, "align": "left", "baseline": "alphabetic", "color": "black"},
      "encoding": {
        "x": {"field": "x", "type": "quantitative", "scale": {"type": "log", "domain": [0.3012, 138.7], "nice": false}, "axis": null},
        "y": {"field": "y", "type": "quantitative", "scale": {"domain": [-20, 10], "nice": false, "zero": false}, "axis": null},
        "text": {"field": "label"}
      }
    },
    {
      "data": {"name": "notes"},
      "transform": [{"filter": "datum.label == '∞'"}],
      "mark": {"type": "text", "font": "DejaVu Sans", "fontSize": 17, "align": "left", "baseline": "alphabetic", "color": "black"},
      "encoding": {
        "x": {"field": "x", "type": "quantitative", "scale": {"type": "log", "domain": [0.3012, 138.7], "nice": false}, "axis": null},
        "y": {"field": "y", "type": "quantitative", "scale": {"domain": [-20, 10], "nice": false, "zero": false}, "axis": null},
        "text": {"field": "label"}
      }
    }
  ],
  "resolve": {"axis": {"x": "independent", "y": "independent"}}
}
